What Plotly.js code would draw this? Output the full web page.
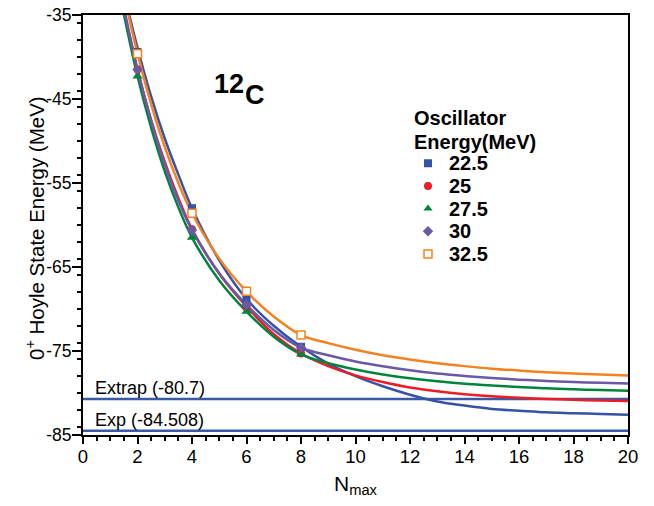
<!DOCTYPE html>
<html>
<head>
<meta charset="utf-8">
<script src="https://cdn.plot.ly/plotly-3.0.1.min.js"></script>
<style>html,body{margin:0;padding:0;background:#fff;}#chart{width:654px;height:506px;}</style>
</head>
<body>
<div id="chart"></div>
<script>
// Oscillator energies (MeV)
const energies = ['22.5', '25', '27.5', '30', '32.5'];
const colors = ['#3653a3', '#ec1c24', '#00843d', '#6b58a6', '#f58220'];
const symbols = ['square', 'circle', 'triangle-up', 'diamond', 'square-open'];
const legendTitle = ['Oscillator', 'Energy(MeV)'];

// Calculated points
const nmaxPts = [2, 4, 6, 8];
const pts225 = [-39.4, -58.0, -68.8, -74.5];
const pts25  = [-41.5, -60.5, -69.7, -75.3];
const pts275 = [-42.3, -61.5, -70.3, -75.4];
const pts30  = [-41.5, -60.6, -69.5, -74.6];
const pts325 = [-39.6, -58.6, -67.9, -73.1];

// Fitted curves
const nmaxFit = [1.25, 1.5, 2, 2.5, 3, 3.5, 4, 5, 6, 7, 8, 9, 10, 11, 12, 13, 14, 15, 16, 17, 18, 19, 20];
const fit225 = [-28.6, -32.3, -38.9, -44.7, -49.7, -54.0, -58.0, -64.2, -68.8, -72.0, -74.5, -76.5, -78.0, -79.2, -80.2, -81.0, -81.5, -81.9, -82.1, -82.3, -82.4, -82.5, -82.6];
const fit25  = [-30.5, -34.4, -41.5, -47.5, -52.5, -56.8, -60.5, -65.8, -69.7, -73.0, -75.3, -76.8, -77.9, -78.7, -79.35, -79.8, -80.14, -80.39, -80.57, -80.71, -80.81, -80.89, -80.94];
const fit275 = [-30.8, -34.9, -42.3, -48.4, -53.6, -57.9, -61.5, -66.6, -70.3, -73.3, -75.4, -76.45, -77.2, -77.8, -78.24, -78.6, -78.9, -79.1, -79.3, -79.44, -79.56, -79.65, -79.72];
const fit30  = [-30.0, -34.1, -41.5, -47.6, -52.8, -57.1, -60.6, -65.75, -69.5, -72.5, -74.6, -75.5, -76.24, -76.82, -77.29, -77.67, -77.97, -78.21, -78.41, -78.56, -78.69, -78.79, -78.87];
const fit325 = [-28.5, -32.5, -39.6, -45.6, -50.7, -55.0, -58.6, -64.0, -67.9, -70.9, -73.1, -74.06, -74.85, -75.5, -76.0, -76.45, -76.8, -77.1, -77.33, -77.52, -77.68, -77.81, -77.92];

// Reference lines
const refNames = ['Extrap (-80.7)', 'Exp (-84.508)'];
const refValues = [-80.7, -84.508];
const refX = [0, 20];

// Axis ticks and titles
const yTickVals = [-85, -75, -65, -55, -45, -35];
const yTickText = ['-85', '-75', '-65', '-55', '-45', '-35'];
const xTickVals = [0, 2, 4, 6, 8, 10, 12, 14, 16, 18, 20];
const yTitle = '0<sup>+</sup> Hoyle State Energy (MeV)';
const xTitle = 'N<sub>max</sub>';

const ptsAll = [pts225, pts25, pts275, pts30, pts325];
const fitAll = [fit225, fit25, fit275, fit30, fit325];
const fontFam = 'Liberation Sans, Arial, Helvetica, sans-serif';

const traces = [];
refValues.forEach((v) => {
  traces.push({x: refX, y: refX.map(() => v), mode: 'lines', line: {color: '#3a5aa8', width: 2.5}, showlegend: false, hoverinfo: 'skip'});
});
fitAll.forEach((f, i) => {
  traces.push({x: nmaxFit, y: f, mode: 'lines', line: {color: colors[i], width: 2.5, shape: 'spline', smoothing: 1}, showlegend: false});
});
ptsAll.forEach((p, i) => {
  if (symbols[i] === 'square-open') {
    traces.push({x: nmaxPts, y: p, mode: 'markers', showlegend: false, hoverinfo: 'skip',
      marker: {symbol: 'square', color: '#ffffff', size: 8}});
  }
  traces.push({
    x: nmaxPts, y: p, mode: 'markers', name: energies[i], showlegend: false,
    marker: {symbol: symbols[i], color: colors[i], size: symbols[i] === 'triangle-up' ? 9 : 8,
      line: {color: colors[i], width: symbols[i] === 'square-open' ? 1.5 : 0}},
    cliponaxis: false
  });
});

// Legend key drawn on an invisible overlay axis (0..1 over the plot area)
const legX = 0.633, legTop = 0.647, legStep = 0.054;
traces.push({
  x: energies.map(() => legX), y: energies.map((e, i) => legTop - i * legStep),
  xaxis: 'x2', yaxis: 'y2', mode: 'markers', showlegend: false, hoverinfo: 'skip',
  marker: {symbol: symbols, color: colors, size: 8, line: {color: colors, width: symbols.map(s => s === 'square-open' ? 1.5 : 0)}}
});

const annotations = refNames.map((t, i) => ({
  x: 0.35, y: refValues[i], xref: 'x', yref: 'y', text: t, showarrow: false,
  xanchor: 'left', yanchor: 'bottom', yshift: -1,
  font: {family: fontFam, size: 18, color: '#000'}
}));
annotations.push({x: 4.73, y: -43.2, xref: 'x', yref: 'y', text: '<b>12</b>', showarrow: false, xanchor: 'left', yanchor: 'middle',
  font: {family: fontFam, size: 27, color: '#000'}});
annotations.push({x: 5.88, y: -44.5, xref: 'x', yref: 'y', text: '<b>C</b>', showarrow: false, xanchor: 'left', yanchor: 'middle',
  font: {family: fontFam, size: 27, color: '#000'}});
legendTitle.forEach((t, i) => {
  annotations.push({x: 0.6045, y: 0.755 - i * 0.058, xref: 'paper', yref: 'paper', text: '<b>' + t + '</b>', showarrow: false,
    xanchor: 'left', yanchor: 'middle', font: {family: fontFam, size: 20, color: '#000'}});
});
energies.forEach((e, i) => {
  annotations.push({x: 0.667, y: legTop - i * legStep, xref: 'paper', yref: 'paper', text: '<b>' + e + '</b>', showarrow: false,
    xanchor: 'left', yanchor: 'middle', font: {family: fontFam, size: 20, color: '#000'}});
});
// y-axis title
annotations.push({x: -0.088, y: 0.493, xref: 'paper', yref: 'paper', text: yTitle, textangle: -90, showarrow: false,
  xanchor: 'center', yanchor: 'middle', font: {family: fontFam, size: 20.5, color: '#000'}});

const layout = {
  width: 654, height: 506,
  margin: {l: 83, r: 26, t: 15, b: 71},
  paper_bgcolor: '#fff', plot_bgcolor: '#fff',
  font: {family: fontFam, color: '#000', size: 18},
  showlegend: false,
  xaxis: {
    range: [0, 20], tickvals: xTickVals, ticks: 'outside', ticklen: 7, tickwidth: 2, tickcolor: '#000',
    showline: true, linewidth: 2, linecolor: '#000', mirror: true, showgrid: false, zeroline: false,
    minor: {dtick: 0.5, ticks: 'outside', ticklen: 4, tickwidth: 2, tickcolor: '#000', showgrid: false},
    tickfont: {size: 18.5}, ticklabelstandoff: -3,
    title: {text: xTitle, font: {size: 21}, standoff: 10}
  },
  yaxis: {
    range: [-85, -35], tickvals: yTickVals, ticktext: yTickText, ticks: 'outside', ticklen: 9, tickwidth: 2, tickcolor: '#000',
    showline: true, linewidth: 2, linecolor: '#000', mirror: true, showgrid: false, zeroline: false,
    minor: {dtick: 2, ticks: 'outside', ticklen: 4, tickwidth: 2, tickcolor: '#000', showgrid: false},
    tickfont: {size: 17.5}, ticklabelstandoff: -3, automargin: false
  },
  xaxis2: {overlaying: 'x', anchor: 'y2', range: [0, 1], visible: false, fixedrange: true},
  yaxis2: {overlaying: 'y', anchor: 'x2', range: [0, 1], visible: false, fixedrange: true},
  annotations: annotations
};
Plotly.newPlot('chart', traces, layout, {displayModeBar: false, staticPlot: true});
</script>
</body>
</html>
